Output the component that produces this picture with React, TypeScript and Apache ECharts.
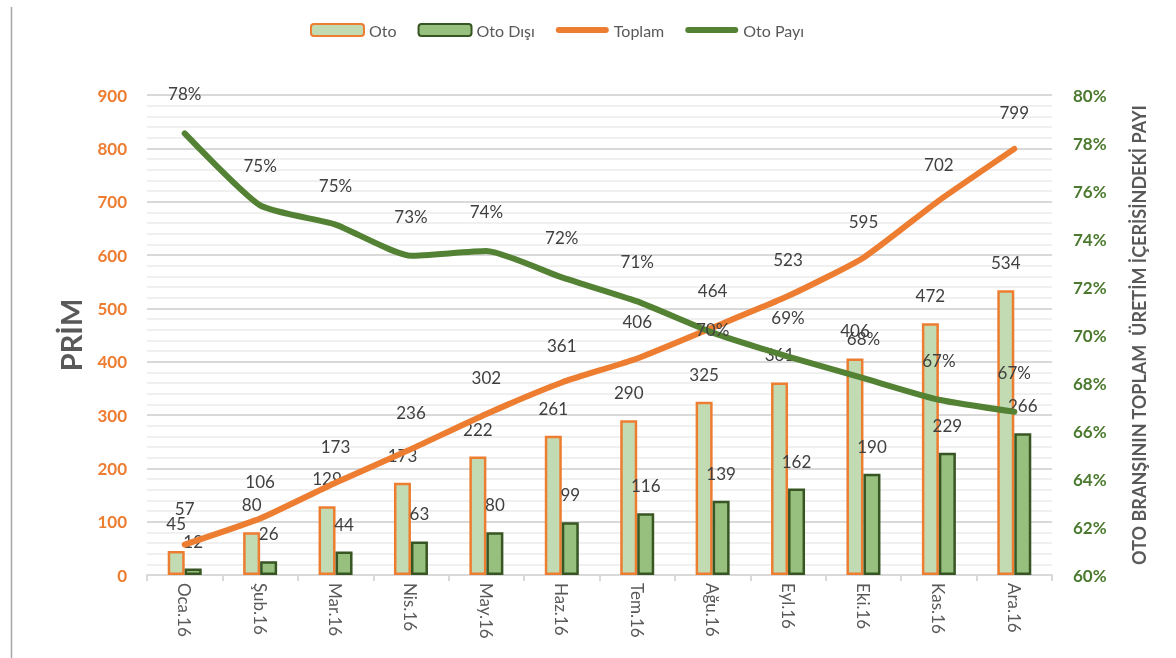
import React, { useEffect, useRef } from "react";
import * as echarts from "echarts";

const categories = ["Oca.16", "Şub.16", "Mar.16", "Nis.16", "May.16", "Haz.16", "Tem.16", "Ağu.16", "Eyl.16", "Eki.16", "Kas.16", "Ara.16"];
const otoValues = [45, 80, 129, 173, 222, 261, 290, 325, 361, 406, 472, 534];
const otoDisiValues = [12, 26, 44, 63, 80, 99, 116, 139, 162, 190, 229, 266];
const toplamValues = [57, 106, 173, 236, 302, 361, 406, 464, 523, 595, 702, 799];
const otoPayiValues = [78.4, 75.4, 74.6, 73.3, 73.5, 72.4, 71.4, 70.1, 69.1, 68.2, 67.3, 66.8];
// index of the share label that sits on the line instead of above it
const centeredPayiLabel = 7;

const FONT = "Lato, 'Liberation Sans', sans-serif";
const LABEL_COLOR = "#404040";
const LINE_ICON = "path://M3,0 L50,0 A3,3 0 0 1 50,6 L3,6 A3,3 0 0 1 3,0 Z";

export default function App() {
  const ref = useRef<HTMLDivElement>(null);
  useEffect(() => {
    if (!ref.current) return;
    const chart = echarts.init(ref.current, undefined, { renderer: "svg" });
    const dataLabel = (distance: number, fmt?: (p: any) => string) => ({
      show: true,
      position: "top",
      distance,
      color: LABEL_COLOR,
      fontSize: 17,
      fontFamily: FONT,
      formatter: fmt,
    });
    const payiData = otoPayiValues.map((v, i) =>
      i === centeredPayiLabel ? { value: v, label: { position: "inside", offset: [0, -3] } } : v
    );
    chart.setOption({
      animation: false,
      textStyle: { fontFamily: FONT },
      legend: {
        top: 17,
        left: 305,
        itemWidth: 53,
        itemHeight: 12,
        itemGap: 21,
        textStyle: { color: "#595959", fontSize: 16, fontFamily: FONT },
        data: [
          { name: "Oto" },
          { name: "Oto Dışı" },
          { name: "Toplam", icon: LINE_ICON },
          { name: "Oto Payı", icon: LINE_ICON },
        ],
      },
      grid: { left: 147, right: 124, top: 95, bottom: 83 },
      xAxis: {
        type: "category",
        data: categories,
        boundaryGap: true,
        axisLine: { lineStyle: { color: "#d9d9d9", width: 2 } },
        axisTick: { show: true, length: 6, lineStyle: { color: "#d9d9d9", width: 2 } },
        axisLabel: { rotate: -90, color: "#595959", fontSize: 17, fontFamily: FONT, margin: 8 },
      },
      yAxis: [
        {
          type: "value",
          min: 0,
          max: 900,
          interval: 100,
          name: "PRİM",
          nameLocation: "middle",
          nameRotate: 90,
          nameGap: 62,
          nameTextStyle: { color: "#595959", fontSize: 29, fontWeight: "bold", fontFamily: FONT },
          axisLine: { show: false },
          axisTick: { show: false },
          axisLabel: { color: "#ed7d31", fontSize: 17, fontWeight: "bold", fontFamily: FONT, margin: 20 },
          splitLine: { show: true, lineStyle: { color: "#d9d9d9", width: 2 } },
          minorTick: { show: false, splitNumber: 5 },
          minorSplitLine: { show: true, lineStyle: { color: "#f0f0f0", width: 2 } },
        },
        {
          type: "value",
          min: 60,
          max: 80,
          interval: 2,
          position: "right",
          name: "OTO BRANŞININ TOPLAM  ÜRETİM İÇERİSİNDEKİ PAYI",
          nameLocation: "middle",
          nameRotate: 90,
          nameGap: 78,
          nameTextStyle: { color: "#595959", fontSize: 18, fontWeight: "bold", fontFamily: FONT },
          axisLine: { show: false },
          axisTick: { show: false },
          axisLabel: { color: "#4b7a2f", fontSize: 17, fontWeight: "bold", fontFamily: FONT, margin: 21, formatter: "{value}%" },
          splitLine: { show: false },
        },
      ],
      series: [
        {
          name: "Oto",
          type: "bar",
          data: otoValues,
          barWidth: 17,
          barGap: "0%",
          itemStyle: { color: "#c3dbb3", borderColor: "#ed7d31", borderWidth: 2.5 },
          label: dataLabel(19),
        },
        {
          name: "Oto Dışı",
          type: "bar",
          data: otoDisiValues,
          barWidth: 17,
          barGap: "0%",
          itemStyle: { color: "#97c07f", borderColor: "#375623", borderWidth: 2.5 },
          label: dataLabel(19),
        },
        {
          name: "Toplam",
          type: "line",
          data: toplamValues,
          smooth: 0.18,
          showSymbol: true,
          symbol: "circle",
          symbolSize: 0.1,
          lineStyle: { color: "#ed7d31", width: 6, cap: "round", join: "round" },
          itemStyle: { color: "#ed7d31" },
          label: dataLabel(28),
          z: 3,
        },
        {
          name: "Oto Payı",
          type: "line",
          yAxisIndex: 1,
          data: payiData,
          smooth: 0.18,
          showSymbol: true,
          symbol: "circle",
          symbolSize: 0.1,
          lineStyle: { color: "#548235", width: 6, cap: "round", join: "round" },
          itemStyle: { color: "#548235" },
          label: dataLabel(31, (p: any) => Math.round(p.value) + "%"),
          z: 3,
        },
      ],
      graphic: [
        {
          type: "line",
          shape: { x1: 11.5, y1: 7, x2: 11.5, y2: 658 },
          style: { stroke: "#a6a6a6", lineWidth: 1.5 },
        },
      ],
    });
    return () => chart.dispose();
  }, []);
  return <div ref={ref} style={{ position: "fixed", left: 0, top: 0, width: 1176, height: 658 }} />;
}
